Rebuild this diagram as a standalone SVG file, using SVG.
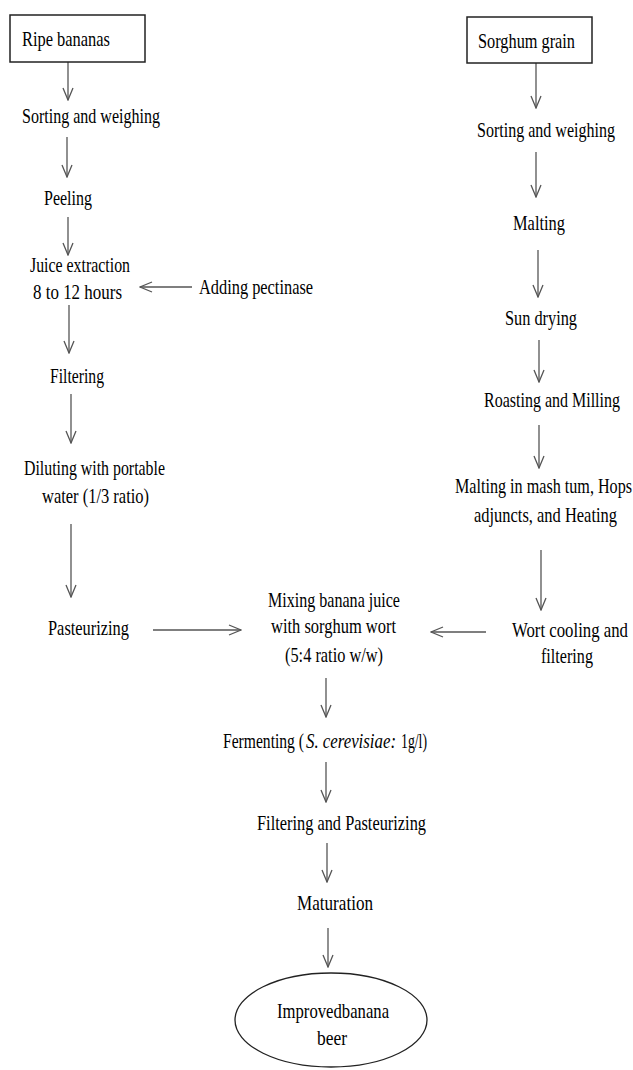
<svg xmlns="http://www.w3.org/2000/svg" width="633" height="1070" viewBox="0 0 633 1070">
<style>
text{font-family:"Liberation Serif","Times New Roman",serif;font-size:21px;fill:#000;}
.it{font-style:italic;}
.r{text-anchor:end;}
.box{fill:#fff;stroke:#222;stroke-width:1.5;}
.c line{stroke:#555;stroke-width:1.3;fill:none;}
</style>
<defs>
<marker id="ah" viewBox="-13 -6 14 12" markerWidth="14" markerHeight="12" refX="0" refY="0" orient="auto" markerUnits="userSpaceOnUse">
<path d="M-12,-5 L0,0 L-12,5" fill="none" stroke="#555" stroke-width="1.3"/>
</marker>
</defs>
<rect width="633" height="1070" fill="#fff"/>
<g class="c">
<line x1="68" y1="62" x2="68" y2="100" marker-end="url(#ah)"/>
<line x1="67" y1="137" x2="67" y2="177" marker-end="url(#ah)"/>
<line x1="68" y1="217" x2="68" y2="255" marker-end="url(#ah)"/>
<line x1="192" y1="287" x2="140" y2="287" marker-end="url(#ah)"/>
<line x1="69" y1="305" x2="69" y2="353" marker-end="url(#ah)"/>
<line x1="71" y1="394" x2="71" y2="443" marker-end="url(#ah)"/>
<line x1="71" y1="524" x2="71" y2="597" marker-end="url(#ah)"/>
<line x1="153" y1="630" x2="241" y2="630" marker-end="url(#ah)"/>
<line x1="536" y1="63" x2="536" y2="108" marker-end="url(#ah)"/>
<line x1="536" y1="152" x2="536" y2="197" marker-end="url(#ah)"/>
<line x1="538" y1="250" x2="538" y2="297" marker-end="url(#ah)"/>
<line x1="539" y1="340" x2="539" y2="382" marker-end="url(#ah)"/>
<line x1="539" y1="425" x2="539" y2="468" marker-end="url(#ah)"/>
<line x1="541" y1="550" x2="541" y2="610" marker-end="url(#ah)"/>
<line x1="486" y1="632" x2="431" y2="632" marker-end="url(#ah)"/>
<line x1="326" y1="678" x2="326" y2="717" marker-end="url(#ah)"/>
<line x1="326" y1="762" x2="326" y2="802" marker-end="url(#ah)"/>
<line x1="327" y1="843" x2="327" y2="882" marker-end="url(#ah)"/>
<line x1="328" y1="928" x2="328" y2="967" marker-end="url(#ah)"/>
</g>
<g id="ripe-bananas">
<rect class="box" x="10" y="15" width="135" height="47"/>
<text transform="translate(22,46) scale(0.77,1)" textLength="114.3" lengthAdjust="spacingAndGlyphs">Ripe bananas</text>
</g>
<g id="sorting-left"><text transform="translate(22,123) scale(0.77,1)" textLength="179.2" lengthAdjust="spacingAndGlyphs">Sorting and weighing</text></g>
<g id="peeling"><text transform="translate(44,205) scale(0.77,1)" textLength="62.3" lengthAdjust="spacingAndGlyphs">Peeling</text></g>
<g id="juice-extraction">
<text transform="translate(30,272) scale(0.77,1)" textLength="129.9" lengthAdjust="spacingAndGlyphs">Juice extraction</text>
<text transform="translate(33,299) scale(0.77,1)" textLength="115.6" lengthAdjust="spacingAndGlyphs">8 to 12 hours</text>
</g>
<g id="adding-pectinase"><text transform="translate(199,294) scale(0.77,1)" textLength="148.1" lengthAdjust="spacingAndGlyphs">Adding pectinase</text></g>
<g id="filtering"><text transform="translate(50,383) scale(0.77,1)" textLength="70.1" lengthAdjust="spacingAndGlyphs">Filtering</text></g>
<g id="diluting">
<text transform="translate(24,475) scale(0.77,1)" textLength="183.1" lengthAdjust="spacingAndGlyphs">Diluting with portable</text>
<text transform="translate(42,503) scale(0.77,1)" textLength="139" lengthAdjust="spacingAndGlyphs">water (1/3 ratio)</text>
</g>
<g id="pasteurizing"><text transform="translate(48,635) scale(0.77,1)" textLength="105.2" lengthAdjust="spacingAndGlyphs">Pasteurizing</text></g>
<g id="sorghum-grain">
<rect class="box" x="467" y="17" width="125" height="46"/>
<text transform="translate(478,48) scale(0.77,1)" textLength="126" lengthAdjust="spacingAndGlyphs">Sorghum grain</text>
</g>
<g id="sorting-right"><text transform="translate(477,137) scale(0.77,1)" textLength="179.2" lengthAdjust="spacingAndGlyphs">Sorting and weighing</text></g>
<g id="malting"><text transform="translate(513,230) scale(0.77,1)" textLength="67.5" lengthAdjust="spacingAndGlyphs">Malting</text></g>
<g id="sun-drying"><text transform="translate(505,325) scale(0.77,1)" textLength="93.5" lengthAdjust="spacingAndGlyphs">Sun drying</text></g>
<g id="roasting"><text transform="translate(484,407) scale(0.77,1)" textLength="176.6" lengthAdjust="spacingAndGlyphs">Roasting and Milling</text></g>
<g id="malting-mash">
<text transform="translate(455,493) scale(0.77,1)" textLength="229.9" lengthAdjust="spacingAndGlyphs">Malting in mash tum, Hops</text>
<text transform="translate(474,522) scale(0.77,1)" textLength="185.7" lengthAdjust="spacingAndGlyphs">adjuncts, and Heating</text>
</g>
<g id="wort-cooling">
<text transform="translate(512,637) scale(0.77,1)" textLength="150.6" lengthAdjust="spacingAndGlyphs">Wort cooling and</text>
<text transform="translate(541,663) scale(0.77,1)" textLength="67.5" lengthAdjust="spacingAndGlyphs">filtering</text>
</g>
<g id="mixing">
<text transform="translate(268,607) scale(0.77,1)" textLength="171.4" lengthAdjust="spacingAndGlyphs">Mixing banana juice</text>
<text transform="translate(271,633) scale(0.77,1)" textLength="162.3" lengthAdjust="spacingAndGlyphs">with sorghum wort</text>
<text transform="translate(285,662) scale(0.77,1)" textLength="127.3" lengthAdjust="spacingAndGlyphs">(5:4 ratio w/w)</text>
</g>
<g id="fermenting">
<text transform="translate(223,748) scale(0.77,1)" textLength="105.2" lengthAdjust="spacingAndGlyphs">Fermenting (</text>
<text class="it" transform="translate(306,748) scale(0.77,1)" textLength="116.9" lengthAdjust="spacingAndGlyphs">S. cerevisiae:</text>
<text transform="translate(401,748) scale(0.77,1)" textLength="33.8" lengthAdjust="spacingAndGlyphs">1g/l)</text>
</g>
<g id="filtering-pasteurizing"><text transform="translate(257,830) scale(0.77,1)" textLength="219.5" lengthAdjust="spacingAndGlyphs">Filtering and Pasteurizing</text></g>
<g id="maturation"><text transform="translate(297,910) scale(0.77,1)" textLength="98.7" lengthAdjust="spacingAndGlyphs">Maturation</text></g>
<g id="improved-beer">
<ellipse cx="331" cy="1020" rx="96" ry="47" fill="#fff" stroke="#222" stroke-width="1.3"/>
<text transform="translate(277,1018) scale(0.77,1)" textLength="145.5" lengthAdjust="spacingAndGlyphs">Improvedbanana</text>
<text transform="translate(317,1045) scale(0.77,1)" textLength="39" lengthAdjust="spacingAndGlyphs">beer</text>
</g>
</svg>
